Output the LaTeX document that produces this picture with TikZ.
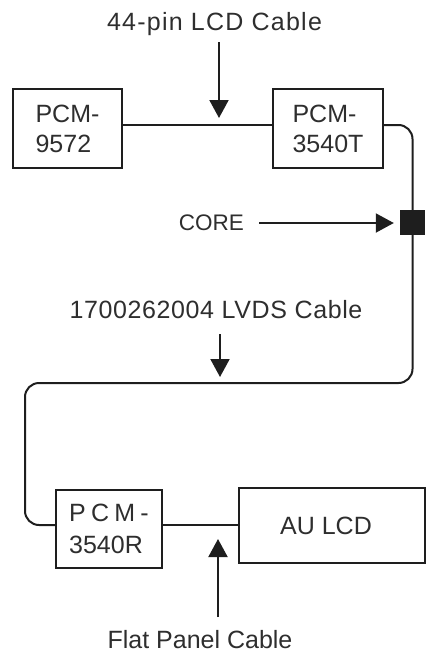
\documentclass[tikz,border=0pt]{standalone}
\usepackage{fontspec}
\setmainfont{Liberation Sans}
\usetikzlibrary{arrows.meta}
\definecolor{linec}{HTML}{1E1E1E}
\definecolor{textc}{HTML}{2E2E2E}
\begin{document}
\begin{tikzpicture}[x=1pt,y=-1pt,
  txt/.style={text=textc, font=\fontsize{25}{30}\selectfont, inner sep=0pt},
  boxn/.style={draw=linec, line width=2pt, text=textc, font=\fontsize{25}{30}\selectfont, inner sep=0pt, align=left},
  cable/.style={draw=linec, line width=2pt},
  arr/.style={draw=linec, line width=2pt, -{Triangle[length=18pt,width=19pt]}},
  corebox/.style={fill=linec, draw=linec, minimum size=24pt, inner sep=0pt}]
\useasboundingbox (0,0) rectangle (429,653);

% boxes
\node[boxn, minimum width=109pt, minimum height=79pt] (n9572) at (67.5,128.5) {PCM-\\9572};
\node[boxn, minimum width=110pt, minimum height=79pt] (n3540T) at (328,128.5) {PCM-\\3540T};
\node[boxn, minimum width=106pt, minimum height=78pt] (n3540R) at (109,529) {{\addfontfeatures{LetterSpace=21}PCM-}\\[2pt]3540R};
\node[boxn, minimum width=186pt, minimum height=75pt] (nau) at (332,525.5) {AU LCD\hspace*{12pt}};

% cable points
\coordinate (c1) at (219,125);
\coordinate (c2) at (220,383);
\coordinate (c4) at (218,525);

% cables
\draw[cable] (n9572.east |- c1) -- (n3540T.west |- c1);
\draw[cable, rounded corners=14pt] (n3540T.east |- c1) -- (412.5,125) -- (412.5,383) -- (25,383) -- (25,525) -- (n3540R.west |- c4);
\draw[cable] (n3540R.east |- c4) -- (nau.west |- c4);

% core
\node[corebox] (core) at (412,222.5) {};

% labels
\node[txt, anchor=base] (t44) at (214.5,30) {\addfontfeatures{LetterSpace=5}44-pin LCD Cable};
\node[txt, anchor=base east, font=\fontsize{22.5}{26}\selectfont] (tcore) at (244,230.5) {CORE};
\node[txt, anchor=base] (tlvds) at (216,318) {\addfontfeatures{LetterSpace=2.5}1700262004 LVDS Cable};
\node[txt, anchor=base] (tflat) at (200,648) {Flat Panel Cable};

% arrow start points
\coordinate (a1) at (219,42);
\coordinate (a2) at (220,334);
\coordinate (a3) at (259,223);
\coordinate (a4) at (218,617);

% arrows
\draw[arr, shorten >=7pt] (a1) -- (c1);
\draw[arr, shorten >=6pt] (a2) -- (c2);
\draw[arr, shorten >=6pt] (a3) -- (core.west |- a3);
\draw[arr, shorten >=14pt] (a4) -- (c4);
\end{tikzpicture}
\end{document}
